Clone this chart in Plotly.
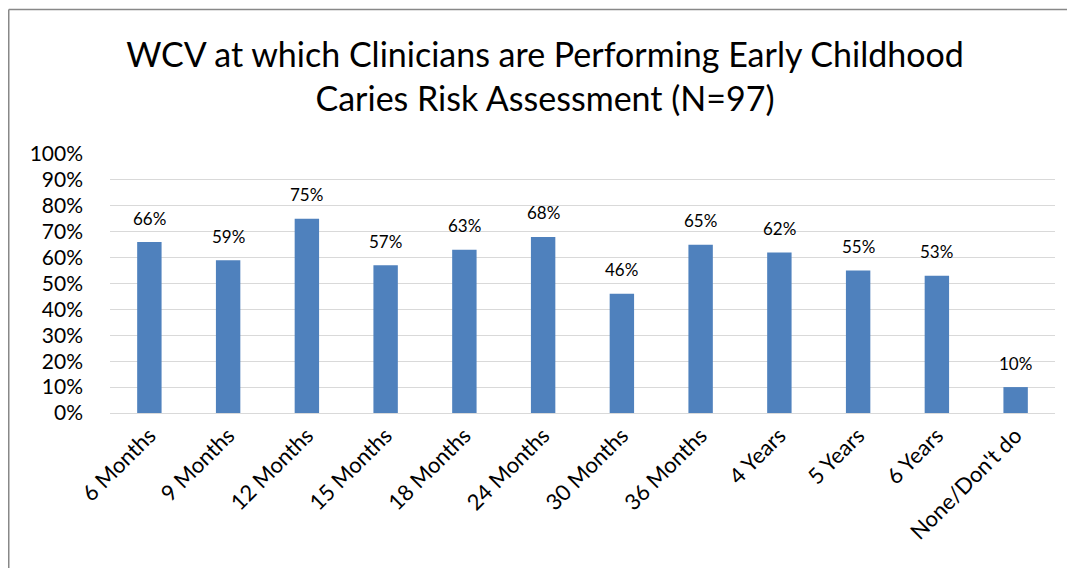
import plotly.graph_objects as go

categories = ["6 Months", "9 Months", "12 Months", "15 Months", "18 Months", "24 Months",
              "30 Months", "36 Months", "4 Years", "5 Years", "6 Years", "None/Don't do"]
values = [0.66, 0.59, 0.75, 0.57, 0.63, 0.68, 0.46, 0.65, 0.62, 0.55, 0.53, 0.10]
labels = ["66%", "59%", "75%", "57%", "63%", "68%", "46%", "65%", "62%", "55%", "53%", "10%"]
y_ticks = [i / 10 for i in range(11)]

FONT = "Lato, Calibri, Carlito, sans-serif"

fig = go.Figure(go.Bar(
    x=categories, y=values,
    marker=dict(color="#4F81BD", line=dict(width=0)),
    width=0.31, hoverinfo="x+y",
))

for c, v, t in zip(categories, values, labels):
    fig.add_annotation(x=c, y=v, text=t, showarrow=False, yshift=24,
                       yanchor="middle", font=dict(size=17, color="#000000", family=FONT))

# browser body margin (8px) offsets the figure; keep page within the window
OFF = 8
W, H = 1075 - 2 * OFF, 582 - 2 * OFF - 6
L, T = 110 - OFF, 154 - OFF
R = W - (1055 - OFF)
B = H - (413 - OFF)
pw, ph = W - L - R, H - T - B

def px(x):
    return (x - OFF - L) / pw

def py(y):
    return (H - B - (y - OFF)) / ph

fig.update_layout(
    width=W, height=H,
    margin=dict(l=L, r=R, t=T, b=B, pad=0),
    paper_bgcolor="white", plot_bgcolor="white",
    showlegend=False,
    title=dict(text="WCV at which Clinicians are Performing Early Childhood<br>Caries Risk Assessment (N=97)",
               x=(545 - OFF) / W, xanchor="center", xref="container",
               y=1 - (67 - OFF) / H, yanchor="middle", yref="container",
               font=dict(size=34, color="#000000", family=FONT)),
    font=dict(family=FONT, color="#000000"),
    xaxis=dict(tickangle=-45, tickfont=dict(size=22), showgrid=False,
               showline=True, linecolor="#d9d9d9", linewidth=1, ticks=""),
    yaxis=dict(range=[0, 1], tickvals=y_ticks, tickformat=".0%",
               tickfont=dict(size=21), showgrid=True, gridcolor="#d9d9d9",
               gridwidth=1, zeroline=False, showline=False, ticks="",
               ticklabelstandoff=26),
    shapes=[
        dict(type="line", xref="paper", yref="paper",
             x0=px(8.75), x1=px(8.75), y0=py(OFF + H), y1=py(9.5),
             line=dict(color="#888888", width=1.5)),
        dict(type="line", xref="paper", yref="paper",
             x0=px(8.75), x1=px(OFF + W), y0=py(9.5), y1=py(9.5),
             line=dict(color="#888888", width=1.5)),
    ],
)

fig.write_html("out.html")
